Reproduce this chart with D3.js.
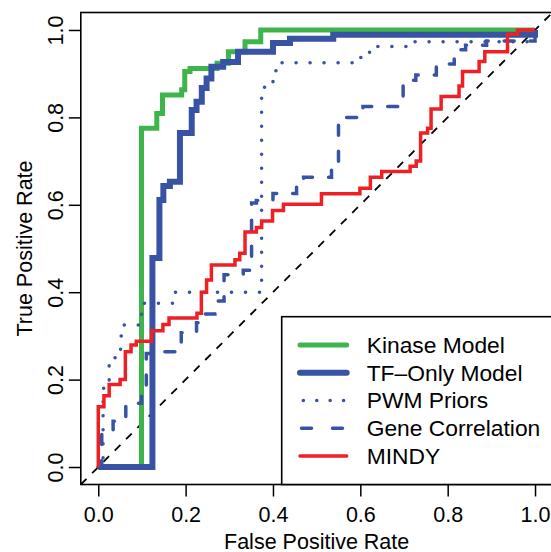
<!DOCTYPE html>
<html>
<head>
<meta charset="utf-8">
<script src="https://cdn.jsdelivr.net/npm/d3@7"></script>
<style>
  body { margin: 0; background: #fff; }
  text { font-family: "Liberation Sans", Arial, Helvetica, sans-serif; fill: #000; }
</style>
</head>
<body>
<svg id="chart" width="551" height="552"></svg>
<script>
// ROC curves, values (false positive rate, true positive rate)
var kinaseFpr = [0, 0.099, 0.134, 0.147, 0.191, 0.198, 0.21, 0.272, 0.298, 0.336, 0.372, 1];
var kinaseTpr = [0, 0.775, 0.809, 0.851, 0.863, 0.905, 0.912, 0.924, 0.95, 0.973, 1.0, 1];

var tfFpr = [0, 0.124, 0.14, 0.149, 0.164, 0.187, 0.214, 0.225, 0.237, 0.248, 0.259, 0.286, 0.32, 0.40, 0.439, 0.538, 1];
var tfTpr = [0, 0.478, 0.611, 0.643, 0.653, 0.764, 0.817, 0.836, 0.867, 0.889, 0.916, 0.927, 0.95, 0.97, 0.98, 0.989, 1];

var pwmFpr = [0, 0.011, 0.025, 0.038, 0.051, 0.057, 0.099, 0.176, 0.374, 0.40, 0.414, 0.593, 0.613, 0.629, 0.712, 1];
var pwmTpr = [0, 0.18, 0.232, 0.25, 0.30, 0.325, 0.375, 0.40, 0.869, 0.907, 0.925, 0.937, 0.949, 0.962, 0.973, 1];

var geneFpr = [0, 0.008, 0.034, 0.063, 0.099, 0.11, 0.137, 0.19, 0.225, 0.237, 0.267, 0.288, 0.332, 0.351, 0.362, 0.40, 0.454, 0.47, 0.534, 0.55, 0.606, 0.698, 0.727, 0.774, 0.815, 0.841, 0.889, 1];
var geneTpr = [0, 0.08, 0.105, 0.146, 0.17, 0.26, 0.264, 0.307, 0.33, 0.35, 0.38, 0.44, 0.45, 0.604, 0.61, 0.626, 0.649, 0.663, 0.691, 0.80, 0.825, 0.885, 0.897, 0.922, 0.955, 0.965, 0.975, 1];

var mindyFpr = [0, 0, 0.013, 0.025, 0.05, 0.062, 0.075, 0.087, 0.122, 0.148, 0.162, 0.226, 0.236, 0.248, 0.259, 0.313, 0.324, 0.336, 0.362, 0.374, 0.399, 0.424, 0.511, 0.599, 0.623, 0.649, 0.714, 0.728, 0.738, 0.754, 0.762, 0.785, 0.826, 0.834, 0.872, 0.885, 0.937, 0.96, 1];
var mindyTpr = [0, 0.138, 0.163, 0.189, 0.20, 0.264, 0.279, 0.288, 0.312, 0.326, 0.341, 0.352, 0.40, 0.428, 0.462, 0.474, 0.489, 0.538, 0.548, 0.563, 0.587, 0.601, 0.625, 0.638, 0.663, 0.676, 0.688, 0.70, 0.764, 0.775, 0.819, 0.848, 0.872, 0.905, 0.928, 0.95, 0.99, 1.0, 1];

var seriesNames = ["Kinase Model", "TF\u2013Only Model", "PWM Priors", "Gene Correlation", "MINDY"];
var tickValues = [0, 0.2, 0.4, 0.6, 0.8, 1.0];

var svg = d3.select("#chart");

// R-style plot region: data range padded by 4% on each side
var x = d3.scaleLinear().domain([-0.04, 1.04]).range([80.8, 552.5]);
var y = d3.scaleLinear().domain([-0.04, 1.04]).range([484.5, 12.5]);

var series = [
    { fpr: kinaseFpr, tpr: kinaseTpr, color: "#3db54a", width: 5, dash: null, cap: "butt" },
    { fpr: tfFpr, tpr: tfTpr, color: "#3953a4", width: 6, dash: null, cap: "butt" },
    { fpr: pwmFpr, tpr: pwmTpr, color: "#3953a4", width: 3.5, dash: "0.1,13.9", cap: "round" },
    { fpr: geneFpr, tpr: geneTpr, color: "#3953a4", width: 3.5, dash: "10,16", cap: "round" },
    { fpr: mindyFpr, tpr: mindyTpr, color: "#ed2024", width: 3.5, dash: null, cap: "butt" }
];
series.forEach(function (s, i) { s.name = seriesNames[i]; });

svg.append("clipPath").attr("id", "plotClip")
    .append("rect")
    .attr("x", x(-0.04)).attr("y", y(1.04))
    .attr("width", x(1.04) - x(-0.04))
    .attr("height", y(-0.04) - y(1.04));

var plot = svg.append("g").attr("clip-path", "url(#plotClip)");

// diagonal reference line
plot.append("line")
    .attr("x1", x(-0.04)).attr("y1", y(-0.04))
    .attr("x2", x(1.04)).attr("y2", y(1.04))
    .attr("stroke", "#000")
    .attr("stroke-width", 1.8)
    .attr("stroke-dasharray", "8,8");

var line = d3.line()
    .x(function (d) { return x(d[0]); })
    .y(function (d) { return y(d[1]); })
    .curve(d3.curveStepAfter);

plot.selectAll("path.roc")
    .data(series)
    .enter().append("path")
    .attr("class", "roc")
    .attr("d", function (s) { return line(d3.zip(s.fpr, s.tpr)); })
    .attr("fill", "none")
    .attr("stroke", function (s) { return s.color; })
    .attr("stroke-width", function (s) { return s.width; })
    .attr("stroke-dasharray", function (s) { return s.dash; })
    .attr("stroke-linecap", function (s) { return s.cap; })
    .attr("stroke-linejoin", "miter");

// axes
var fmt = d3.format(".1f");
var xAxis = svg.append("g")
    .attr("transform", "translate(0," + y(-0.04) + ")")
    .call(d3.axisBottom(x).tickValues(tickValues).tickFormat(fmt).tickSize(12).tickSizeOuter(0));
xAxis.select(".domain").remove();
xAxis.selectAll(".tick line").attr("stroke", "#000").attr("stroke-width", 1.5);
xAxis.selectAll(".tick text")
    .attr("y", 37).attr("dy", 0)
    .style("font-size", "21.5px")
    .attr("fill", "#000");

var yAxis = svg.append("g")
    .attr("transform", "translate(" + x(-0.04) + ",0)")
    .call(d3.axisLeft(y).tickValues(tickValues).tickFormat(fmt).tickSize(12).tickSizeOuter(0));
yAxis.select(".domain").remove();
yAxis.selectAll(".tick line").attr("stroke", "#000").attr("stroke-width", 1.5);
yAxis.selectAll(".tick text")
    .attr("x", 0).attr("dy", 0)
    .attr("transform", "translate(-18,0) rotate(-90)")
    .attr("text-anchor", "middle")
    .style("font-size", "21.5px")
    .attr("fill", "#000");

// box round the plot
svg.append("rect")
    .attr("x", x(-0.04)).attr("y", y(1.04))
    .attr("width", x(1.04) - x(-0.04))
    .attr("height", y(-0.04) - y(1.04))
    .attr("fill", "none")
    .attr("stroke", "#000")
    .attr("stroke-width", 1.6);

// axis titles
svg.append("text")
    .attr("x", (x(-0.04) + x(1.04)) / 2)
    .attr("y", 548.5)
    .attr("text-anchor", "middle")
    .style("font-size", "21.5px")
    .text("False Positive Rate");

svg.append("text")
    .attr("transform", "translate(31.5," + (y(-0.04) + y(1.04)) / 2 + ") rotate(-90)")
    .attr("text-anchor", "middle")
    .style("font-size", "21.5px")
    .text("True Positive Rate");

// legend, bottom right
var legend = svg.append("g");
legend.append("rect")
    .attr("x", 281.7).attr("y", 316.7)
    .attr("width", x(1.04) - 281.7)
    .attr("height", y(-0.04) - 316.7)
    .attr("fill", "#fff")
    .attr("stroke", "#000")
    .attr("stroke-width", 1.6);

var rows = legend.selectAll("g.row")
    .data(series)
    .enter().append("g")
    .attr("class", "row")
    .attr("transform", function (s, i) { return "translate(0," + (345 + i * 27.75) + ")"; });

rows.append("line")
    .attr("x1", 300).attr("x2", 346.7)
    .attr("stroke", function (s) { return s.color; })
    .attr("stroke-width", function (s) { return s.width; })
    .attr("stroke-dasharray", function (s, i) { return i === 3 ? "10,21" : (i === 2 ? "0.1,13.3" : null); })
    .attr("stroke-linecap", "round")
    .attr("transform", function (s, i) { return i === 2 ? "translate(3.3,0)" : (i === 3 ? "translate(1.5,0)" : null); });

rows.append("text")
    .attr("x", 366.7)
    .attr("dy", "0.35em")
    .style("font-size", "22.8px")
    .text(function (s) { return s.name; });
</script>
</body>
</html>
